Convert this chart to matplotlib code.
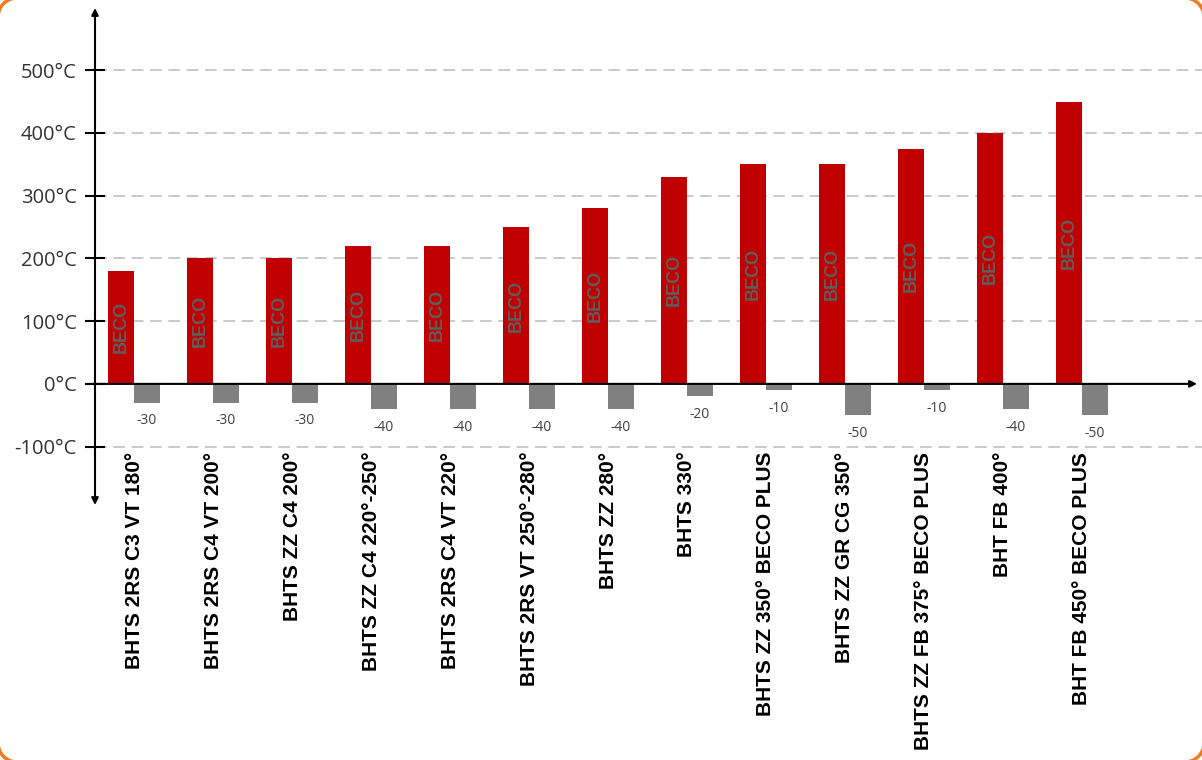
#%% imports
import matplotlib.pyplot as plt
from matplotlib.patches import Arc

#%% data
labels = [
    "BHTS 2RS C3 VT 180°",
    "BHTS 2RS C4 VT 200°",
    "BHTS ZZ C4 200°",
    "BHTS ZZ C4 220°-250°",
    "BHTS 2RS C4 VT 220°",
    "BHTS 2RS VT 250°-280°",
    "BHTS ZZ 280°",
    "BHTS 330°",
    "BHTS ZZ 350° BECO PLUS",
    "BHTS ZZ GR CG 350°",
    "BHTS ZZ FB 375° BECO PLUS",
    "BHT FB 400°",
    "BHT FB 450° BECO PLUS",
]
max_temp = [180, 200, 200, 220, 220, 250, 280, 330, 350, 350, 375, 400, 450]
min_temp = [-30, -30, -30, -40, -40, -40, -40, -20, -10, -50, -10, -40, -50]
yticks = [-100, 0, 100, 200, 300, 400, 500]

#%% figure
fig = plt.figure(figsize=(12.02, 7.6), dpi=100)
ax = fig.add_axes([95 / 1202, 1 - 505 / 760, 1102 / 1202, 497 / 760])

x = list(range(len(labels)))
w = 0.33
ax.bar([i - w / 2 for i in x], max_temp, width=w, color="#c00000", zorder=3)
ax.bar([i + w / 2 for i in x], min_temp, width=w, color="#808080", zorder=3)

for i, v in zip(x, max_temp):
    ax.text(i - w / 2, v / 2, "BECO", rotation=90, ha="center", va="center",
            fontsize=13, fontweight="bold", family="Liberation Sans",
            color="#5f5f5f", zorder=4)

for i, v in zip(x, min_temp):
    ax.annotate(str(v), (i + w / 2, v), xytext=(0, -13), textcoords="offset points",
                ha="center", va="center", fontsize=10, family="Open Sans",
                color="#404040")

for i, lab in zip(x, labels):
    ax.text(i, -108, lab, rotation=90, ha="center", va="top", fontsize=15,
            fontweight="bold", family="Liberation Sans", color="black",
            clip_on=False)

ax.set_xlim(-0.494, 13.456)
ax.set_ylim(-193, 599)

for s in ax.spines.values():
    s.set_visible(False)

ax.set_xticks([])
ax.set_yticks(yticks)
ax.set_yticklabels([f"{v}°C" for v in yticks], family="Open Sans", fontsize=14.5,
                   color="#333333")
ax.tick_params(axis="y", direction="inout", length=14, width=1.5, pad=6)

for v in yticks:
    if v != 0:
        ax.axhline(v, xmax=1.01, color="#c0c0c0", linewidth=1.2, dashes=(7, 4),
                   zorder=1, clip_on=False)

# axes with arrow heads
ax.annotate("", xy=(0, 1), xytext=(0, 0), xycoords="axes fraction",
            arrowprops=dict(arrowstyle="<|-|>", color="black", lw=1.5,
                            mutation_scale=10, shrinkA=0, shrinkB=0))
ax.annotate("", xy=(13.456, 0), xytext=(-0.55, 0), xycoords="data",
            arrowprops=dict(arrowstyle="-|>", color="black", lw=1.5,
                            mutation_scale=10, shrinkA=0, shrinkB=0),
            annotation_clip=False)

# orange rounded corners of the page frame (inches)
W, H = 12.02, 7.6
c, r = 0.17, 0.19
for (cx, cy), (a1, a2) in [((c, H - c), (90, 180)), ((c, c), (180, 270)),
                           ((W - c, c), (270, 360)), ((W - c, H - c), (0, 90))]:
    fig.add_artist(Arc((cx, cy), 2 * r, 2 * r, theta1=a1, theta2=a2,
                       transform=fig.dpi_scale_trans, color="#f07a20",
                       linewidth=2.5))

fig.savefig("out.png", dpi=100)
